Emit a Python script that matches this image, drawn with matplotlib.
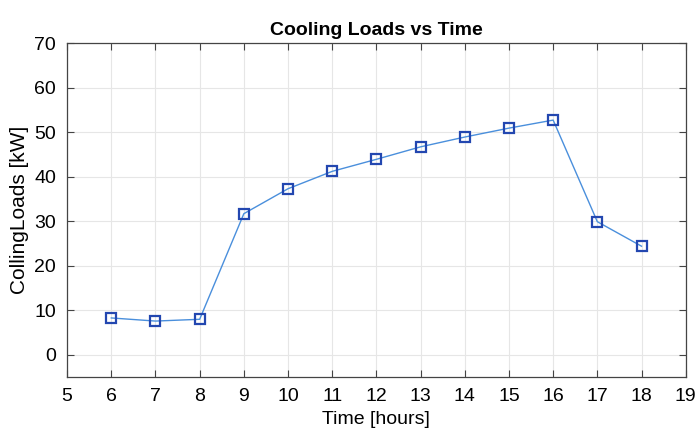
import matplotlib.pyplot as plt

plt.rcParams['font.family'] = ['Liberation Sans Narrow', 'Liberation Sans', 'DejaVu Sans']

hours = [6, 7, 8, 9, 10, 11, 12, 13, 14, 15, 16, 17, 18]
loads = [8.3, 7.6, 8.0, 31.7, 37.3, 41.2, 43.9, 46.7, 48.9, 50.9, 52.7, 29.9, 24.4]

fig = plt.figure(figsize=(6.99, 4.48), dpi=100)
ax = fig.add_axes([0.096, 0.158, 0.885, 0.746])

ax.plot(hours, loads, color='#4a8fdc', lw=1.0, marker='s', ms=7,
        mfc='none', mec='#2347b0', mew=1.6)

ax.set_xlim(5, 19)
ax.set_ylim(-5, 70)
ax.set_xticks(range(5, 20))
ax.set_yticks(range(0, 71, 10))
ax.grid(True, color='#e6e6e6', lw=0.8)
ax.set_axisbelow(True)
ax.tick_params(direction='in', top=True, right=True, labelsize=14, length=5,
               color='#444444', pad=8)
for s in ax.spines.values():
    s.set_color('#444444')
    s.set_linewidth(0.9)

ax.set_title('Cooling Loads vs Time', fontsize=14, fontweight='bold', pad=6)
ax.set_xlabel('Time [hours]', fontsize=14, labelpad=4)
ax.set_ylabel('CollingLoads [kW]', fontsize=15, labelpad=4)

fig.savefig('out.png', dpi=100)
